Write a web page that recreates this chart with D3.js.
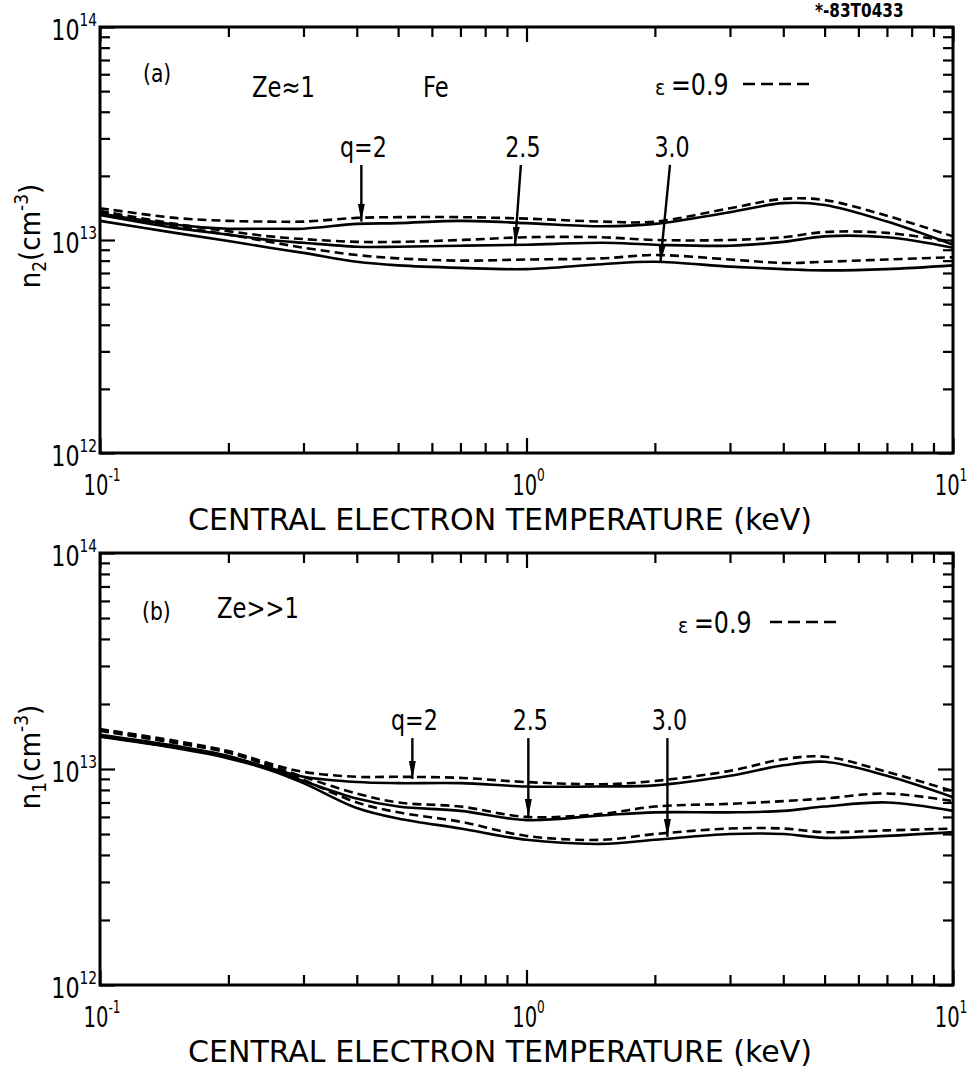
<!DOCTYPE html>
<html>
<head>
<meta charset="utf-8">
<script src="https://cdn.jsdelivr.net/npm/d3@7"></script>
<style>
  body { margin: 0; background: #fff; }
  svg text { font-family: "DejaVu Sans Condensed", "DejaVu Sans", sans-serif; font-stretch: condensed; fill: #000; }
</style>
</head>
<body>
<svg id="chart" width="971" height="1072"></svg>
<script>
// central electron temperature (keV)
const temps = [0.1, 0.15, 0.2, 0.25, 0.3, 0.4, 0.5, 0.7, 1, 1.5, 2, 3, 4, 5, 7, 10];

// (a) Ze ~ 1, Fe : n2 in units of 1e13 cm^-3
const a_q2_solid  = [1.33, 1.18, 1.13, 1.13, 1.13, 1.19, 1.20, 1.23, 1.20, 1.16, 1.19, 1.35, 1.49, 1.46, 1.22, 0.95];
const a_q2_dash   = [1.41, 1.27, 1.23, 1.22, 1.22, 1.27, 1.28, 1.28, 1.26, 1.22, 1.22, 1.41, 1.56, 1.54, 1.30, 1.04];
const a_q25_solid = [1.31, 1.14, 1.06, 1.00, 0.97, 0.93, 0.93, 0.94, 0.95, 0.97, 0.95, 0.94, 0.98, 1.04, 1.03, 0.92];
const a_q25_dash  = [1.37, 1.19, 1.10, 1.04, 1.01, 0.98, 0.98, 1.00, 1.03, 1.03, 1.00, 1.00, 1.03, 1.09, 1.08, 0.98];
const a_q3_solid  = [1.23, 1.08, 0.99, 0.92, 0.87, 0.79, 0.76, 0.74, 0.73, 0.77, 0.79, 0.75, 0.73, 0.72, 0.73, 0.76];
const a_q3_dash   = [1.35, 1.16, 1.06, 0.98, 0.92, 0.85, 0.82, 0.80, 0.81, 0.82, 0.85, 0.81, 0.78, 0.79, 0.81, 0.83];

// (b) Ze >> 1 : n1 in units of 1e13 cm^-3
const b_q2_solid  = [1.44, 1.28, 1.15, 1.01, 0.92, 0.87, 0.86, 0.86, 0.83, 0.83, 0.84, 0.93, 1.04, 1.08, 0.93, 0.74];
const b_q2_dash   = [1.53, 1.35, 1.21, 1.06, 0.97, 0.92, 0.92, 0.91, 0.87, 0.85, 0.88, 0.98, 1.11, 1.14, 0.97, 0.79];
const b_q25_solid = [1.42, 1.26, 1.14, 1.00, 0.88, 0.73, 0.67, 0.64, 0.58, 0.61, 0.63, 0.63, 0.64, 0.67, 0.70, 0.64];
const b_q25_dash  = [1.52, 1.33, 1.20, 1.04, 0.92, 0.77, 0.70, 0.67, 0.60, 0.62, 0.67, 0.69, 0.71, 0.73, 0.77, 0.71];
const b_q3_solid  = [1.41, 1.25, 1.12, 0.99, 0.86, 0.66, 0.59, 0.53, 0.47, 0.45, 0.47, 0.50, 0.50, 0.48, 0.49, 0.51];
const b_q3_dash   = [1.50, 1.32, 1.19, 1.03, 0.89, 0.70, 0.63, 0.57, 0.49, 0.47, 0.50, 0.53, 0.53, 0.51, 0.52, 0.53];

// q labels with arrows: [label, T at top, n at top, T at tip, n at tip]
const a_arrows = [["q=2", 0.41, 2.25, 0.41, 1.22], ["2.5", 0.97, 2.25, 0.94, 0.95], ["3.0", 2.17, 2.25, 2.06, 0.78]];
const b_arrows = [["q=2", 0.54, 1.39, 0.54, 0.90], ["2.5", 1.01, 1.39, 1.01, 0.60], ["3.0", 2.14, 1.39, 2.14, 0.485]];

const xMajor = [0.1, 1, 10];
const xMinor = [0.2, 0.3, 0.4, 0.5, 0.6, 0.7, 0.8, 0.9, 2, 3, 4, 5, 6, 7, 8, 9];
const yMajor = [0.1, 1, 10];
const yMinor = [0.2, 0.3, 0.4, 0.5, 0.6, 0.7, 0.8, 0.9, 2, 3, 4, 5, 6, 7, 8, 9];
const xTickLabels = [["10", "-1"], ["10", "0"], ["10", "1"]];
const yTickLabels = [["10", "12"], ["10", "13"], ["10", "14"]];

const svg = d3.select("#chart");
const left = 100, right = 953;

svg.append("defs").append("marker")
  .attr("id", "head")
  .attr("markerUnits", "userSpaceOnUse")
  .attr("markerWidth", 20).attr("markerHeight", 10)
  .attr("viewBox", "0 -5 20 10")
  .attr("refX", 18).attr("refY", 0)
  .attr("orient", "auto")
  .append("path").attr("d", "M0,-3.5L18,0L0,3.5Z").attr("fill", "#000");

// narrow lettering: squeeze the text horizontally around its anchor
function narrow(sel, x, y, sx) {
  return sel.append("text").attr("transform", `translate(${x},${y}) scale(${sx},1)`);
}

narrow(svg, 815, 17, 0.85).attr("font-size", 20).attr("font-weight", "bold").text("*-83T0433");

const panels = [
  {
    top: 27, bottom: 453, sub: "2",
    series: [a_q2_solid, a_q2_dash, a_q25_solid, a_q25_dash, a_q3_solid, a_q3_dash],
    arrows: a_arrows,
    ytitleY: 236,
    texts: [["(a)", 143, 82, 25], ["Ze\u22481", 252, 97, 28], ["Fe", 423, 97, 28]],
    eps: { x: 655, y: 95, dash: [743, 812, 84] }
  },
  {
    top: 553, bottom: 985, sub: "1",
    series: [b_q2_solid, b_q2_dash, b_q25_solid, b_q25_dash, b_q3_solid, b_q3_dash],
    arrows: b_arrows,
    ytitleY: 757,
    texts: [["(b)", 142, 620, 25], ["Ze>>1", 217, 618, 28]],
    eps: { x: 678, y: 633, dash: [770, 837, 622] }
  }
];

panels.forEach(p => {
  const x = d3.scaleLog().domain([0.1, 10]).range([left, right]);
  const y = d3.scaleLog().domain([0.1, 10]).range([p.bottom, p.top]);
  const g = svg.append("g");

  // ticks, all pointing inwards
  const axes = [
    [d3.axisBottom(x), `translate(0,${p.bottom})`],
    [d3.axisTop(x), `translate(0,${p.top})`],
    [d3.axisLeft(y), `translate(${left},0)`],
    [d3.axisRight(y), `translate(${right},0)`]
  ];
  axes.forEach(([ax, tr], i) => {
    const minor = i < 2 ? xMinor : yMinor;
    const major = i < 2 ? xMajor : yMajor;
    g.append("g").attr("transform", tr)
      .call(ax.tickValues(minor).tickSize(-10).tickFormat(""))
      .call(s => s.select(".domain").remove())
      .call(s => s.selectAll("line").attr("stroke", "#000").attr("stroke-width", 2.2));
    g.append("g").attr("transform", tr)
      .call(ax.tickValues(major).tickSize(-15).tickFormat(""))
      .call(s => s.select(".domain").remove())
      .call(s => s.selectAll("line").attr("stroke", "#000").attr("stroke-width", 2.2));
  });

  g.append("rect")
    .attr("x", left).attr("y", p.top)
    .attr("width", right - left).attr("height", p.bottom - p.top)
    .attr("fill", "none").attr("stroke", "#000").attr("stroke-width", 3);

  // tick labels
  xMajor.forEach((v, i) => {
    const t = narrow(g, x(v) + (i === 2 ? -2 : 2), p.bottom + 42, 0.75)
      .attr("text-anchor", "middle").attr("font-size", 29);
    t.append("tspan").text(xTickLabels[i][0]);
    t.append("tspan").attr("dy", -14).attr("font-size", 18).text(xTickLabels[i][1]);
  });
  yMajor.forEach((v, i) => {
    const t = narrow(g, 97, y(v) + 13, 0.85)
      .attr("text-anchor", "end").attr("font-size", 29);
    t.append("tspan").text(yTickLabels[i][0]);
    t.append("tspan").attr("dy", -14).attr("font-size", 18).text(yTickLabels[i][1]);
  });

  // axis titles
  g.append("text").attr("x", 188).attr("y", p.bottom + 77)
    .attr("font-size", 30).attr("textLength", 624).attr("lengthAdjust", "spacingAndGlyphs")
    .text("CENTRAL ELECTRON TEMPERATURE (keV)");

  const yt = g.append("text")
    .attr("transform", `translate(40,${p.ytitleY}) rotate(-90)`)
    .attr("text-anchor", "middle").attr("font-size", 29);
  yt.append("tspan").text("n");
  yt.append("tspan").attr("dy", 6).attr("font-size", 19).text(p.sub);
  yt.append("tspan").attr("dy", -6).text("(cm");
  yt.append("tspan").attr("dy", -12).attr("font-size", 19).text("-3");
  yt.append("tspan").attr("dy", 12).text(")");

  // curves: solid = base case, dashed = epsilon 0.9
  const line = d3.line()
    .x((d, i) => x(temps[i]))
    .y(d => y(d))
    .curve(d3.curveCatmullRom.alpha(0.5));
  p.series.forEach((s, i) => {
    g.append("path")
      .datum(s)
      .attr("fill", "none")
      .attr("stroke", "#000")
      .attr("stroke-width", 2.6)
      .attr("stroke-dasharray", i % 2 ? "9 5" : null)
      .attr("d", line);
  });

  // q arrows
  p.arrows.forEach(([lab, t0, n0, t1, n1]) => {
    g.append("line")
      .attr("x1", x(t0)).attr("y1", y(n0))
      .attr("x2", x(t1)).attr("y2", y(n1))
      .attr("stroke", "#000").attr("stroke-width", 2.4)
      .attr("marker-end", "url(#head)");
    narrow(g, x(t0) + 2, y(n0) - 8, 0.85)
      .attr("text-anchor", "middle").attr("font-size", 29).text(lab);
  });

  // annotations
  p.texts.forEach(([txt, tx, ty, fs]) => {
    narrow(g, tx, ty, 0.9).attr("font-size", fs).text(txt);
  });
  g.append("text").attr("x", p.eps.x).attr("y", p.eps.y).attr("font-size", 21).text("\u03b5");
  narrow(g, p.eps.x + 16, p.eps.y, 0.85).attr("font-size", 31).text("=0.9");
  g.append("line")
    .attr("x1", p.eps.dash[0]).attr("x2", p.eps.dash[1])
    .attr("y1", p.eps.dash[2]).attr("y2", p.eps.dash[2])
    .attr("stroke", "#000").attr("stroke-width", 2.6).attr("stroke-dasharray", "12 6");
});
</script>
</body>
</html>
